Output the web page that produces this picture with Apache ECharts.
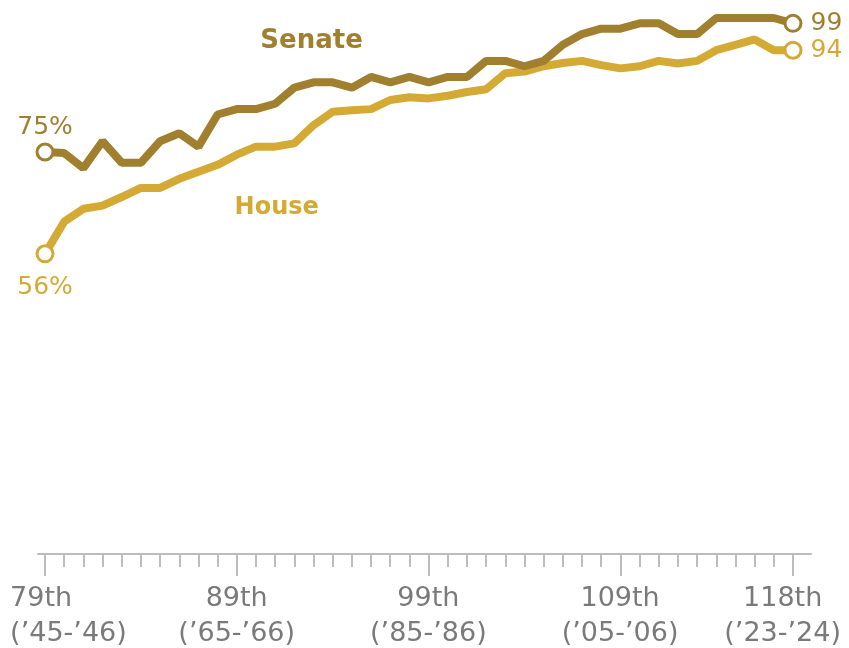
<!DOCTYPE html>
<html>
<head>
<meta charset="utf-8">
<script src="https://cdn.jsdelivr.net/npm/echarts@6/dist/echarts.min.js"></script>
<style>html,body{margin:0;padding:0;background:#fff}#c{width:849px;height:648px}</style>
</head>
<body>
<div id="c"></div>
<script>
var congresses = [];
for (var k = 79; k <= 118; k++) congresses.push(k);
var senate = [75,74.8,72,77,73,73,77,78.5,76,82,83,83,84,87,88,88,87,89,88,89,88,89,89,92,92,91,92,95,97,98,98,99,99,97,97,100,100,100,100,99];
var house = [56,62,64.4,65,66.6,68.3,68.3,70,71.3,72.6,74.5,76,76,76.6,80,82.5,82.8,83,84.7,85.2,85,85.5,86.2,86.7,89.7,90,91,91.6,92,91.2,90.6,91,92,91.5,92,94,95,96,94,94];
var majorTicks = [79,89,99,109,118];
var tickLabels = ["79th\n(\u201945-\u201946)","89th\n(\u201965-\u201966)","99th\n(\u201985-\u201986)","109th\n(\u201905-\u201906)","118th\n(\u201923-\u201924)"];
// label anchor positions (first label is left-aligned, last one nudged inward to fit)
var labelAnchors = [77.18, 89, 99, 109, 117.48];
var senateColor = '#A07F2E';
var houseColor = '#D4AA35';
var FONT = 'DejaVu Sans, Verdana, sans-serif';

function build(vals, color, firstLabel, firstPos, firstDist, lastLabel) {
  return vals.map(function (v, i) {
    var item = { value: [congresses[i], v] };
    var isEnd = (i === 0 || i === vals.length - 1);
    if (isEnd) {
      item.symbol = 'circle';
      item.symbolSize = 16;
      item.itemStyle = { color: '#fff', borderColor: color, borderWidth: 3 };
      item.label = {
        show: true,
        formatter: i === 0 ? firstLabel : lastLabel,
        position: i === 0 ? firstPos : 'right',
        distance: i === 0 ? firstDist : 8,
        color: color,
        fontSize: 25,
        fontFamily: FONT
      };
    } else {
      item.symbol = 'none';
    }
    return item;
  });
}

var chart = echarts.init(document.getElementById('c'), null, {renderer: 'canvas'});
var pxPerUnit = 19.17;
var xMin = 79 - 7 / pxPerUnit, xMax = 118 + 18 / pxPerUnit;
var fullMin = 79 - 45 / pxPerUnit, fullMax = fullMin + 849 / pxPerUnit;
chart.setOption({
  animation: false,
  grid: [
    { left: 38, right: 38, top: 18, bottom: 94, containLabel: false, outerBoundsMode: 'none' },
    { left: 0, right: 0, top: 18, bottom: 94, containLabel: false, outerBoundsMode: 'none' }
  ],
  xAxis: [
    {
      type: 'value', min: xMin, max: xMax, position: 'bottom', gridIndex: 0,
      splitLine: { show: false },
      axisLine: { show: true, lineStyle: { color: '#bdbdbd', width: 2 } },
      axisTick: { show: true, length: 13, customValues: congresses, lineStyle: { color: '#bdbdbd', width: 2 } },
      axisLabel: { show: false }
    },
    {
      type: 'value', min: xMin, max: xMax, position: 'bottom', gridIndex: 0,
      splitLine: { show: false },
      axisLine: { show: false },
      axisTick: { show: true, length: 22, customValues: majorTicks, lineStyle: { color: '#bdbdbd', width: 2 } },
      axisLabel: { show: false }
    },
    {
      type: 'value', min: fullMin, max: fullMax, position: 'bottom', gridIndex: 1,
      splitLine: { show: false },
      axisLine: { show: false },
      axisTick: { show: false },
      axisLabel: {
        show: true, customValues: labelAnchors, margin: 27,
        alignMinLabel: 'left',
        formatter: function (v) {
          var best = 0;
          for (var j = 0; j < labelAnchors.length; j++) if (Math.abs(labelAnchors[j] - v) < Math.abs(labelAnchors[best] - v)) best = j;
          return tickLabels[best];
        },
        color: '#7a7a7a', fontSize: 27, lineHeight: 35,
        fontFamily: FONT
      }
    }
  ],
  yAxis: [
    { type: 'value', min: 0, max: 100, show: false, gridIndex: 0 },
    { type: 'value', min: 0, max: 100, show: false, gridIndex: 1 }
  ],
  series: [
    {
      name: 'Senate', type: 'line', xAxisIndex: 0, yAxisIndex: 0,
      data: build(senate, senateColor, '75%', 'top', 3, '99'),
      lineStyle: { color: senateColor, width: 8 },
      itemStyle: { color: senateColor },
      z: 3,
      markPoint: {
        symbol: 'circle', symbolSize: 0,
        data: [{ coord: [92.9, 95.7], label: { show: true, formatter: 'Senate', position: 'inside', color: senateColor, fontSize: 26, fontWeight: 'bold', fontFamily: FONT } }]
      }
    },
    {
      name: 'House', type: 'line', xAxisIndex: 0, yAxisIndex: 0,
      data: build(house, houseColor, '56%', 'bottom', 12, '94'),
      lineStyle: { color: houseColor, width: 8 },
      itemStyle: { color: houseColor },
      z: 2,
      markPoint: {
        symbol: 'circle', symbolSize: 0,
        data: [{ coord: [91.08, 64.6], label: { show: true, formatter: 'House', position: 'inside', color: houseColor, fontSize: 24, fontWeight: 'bold', fontFamily: FONT } }]
      }
    }
  ]
});
</script>
</body>
</html>
